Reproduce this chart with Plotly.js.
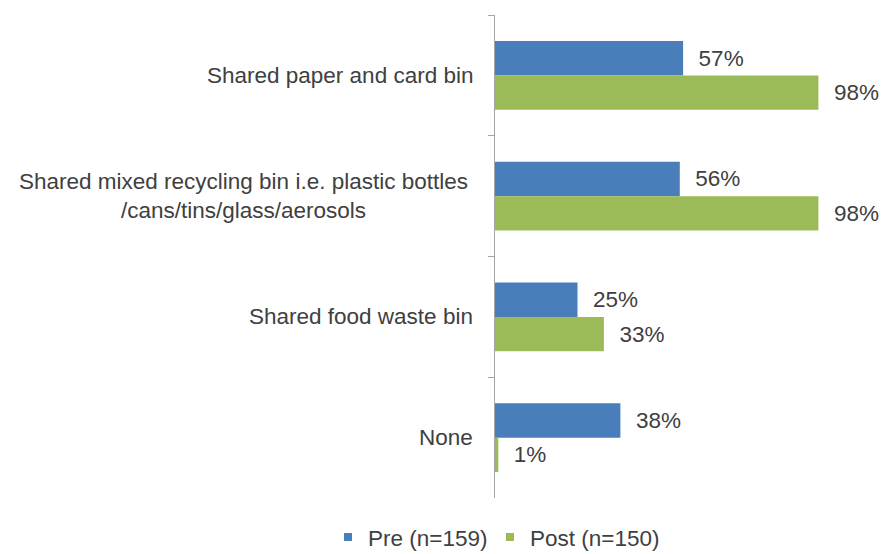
<!DOCTYPE html>
<html>
<head>
<meta charset="utf-8">
<script src="https://cdn.plot.ly/plotly-3.0.1.min.js"></script>
<style>html,body{margin:0;padding:0;background:#fff;}#chart{width:882px;height:554px;}</style>
</head>
<body>
<div id="chart"></div>
<script>
var categories = [
  "Shared paper and card bin",
  "Shared mixed recycling bin i.e. plastic bottles<br>/cans/tins/glass/aerosols",
  "Shared food waste bin",
  "None"
];
var preValues = [57, 56, 25, 38];
var postValues = [98, 98, 33, 1];
var seriesNames = ["Pre (n=159)", "Post (n=150)"];

var FONT = "Liberation Sans, Arial, sans-serif";
var FS = 22.5;
var TXT = "#404040";
var BLUE = "#4A7EBB";
var GREEN = "#9BBB59";

function labels(vals){ return vals.map(function(v){ return "\u00a0\u00a0" + v + "%"; }); }

var traces = [
  {type:"bar", orientation:"h", y:categories, x:preValues, name:seriesNames[0],
   marker:{color:BLUE}, text:labels(preValues), textposition:"outside",
   constraintext:"none", cliponaxis:false, showlegend:false, hoverinfo:"x+y",
   textfont:{family:FONT, size:FS, color:TXT}},
  {type:"bar", orientation:"h", y:categories, x:postValues, name:seriesNames[1],
   marker:{color:GREEN}, text:labels(postValues), textposition:"outside",
   constraintext:"none", cliponaxis:false, showlegend:false, hoverinfo:"x+y",
   textfont:{family:FONT, size:FS, color:TXT}},
  {type:"scatter", mode:"markers", x:[null], y:[null], name:seriesNames[0],
   marker:{symbol:"square", size:8, color:BLUE}, showlegend:true, legend:"legend"},
  {type:"scatter", mode:"markers", x:[null], y:[null], name:seriesNames[1],
   marker:{symbol:"square", size:8, color:GREEN}, showlegend:true, legend:"legend2"}
];

var annotations = categories.map(function(c, i){
  return {xref:"paper", yref:"y", x:0, y:c, text:c, showarrow:false,
          xanchor:"right", yanchor:"middle", align:"center", xshift:(i === 1 ? -25 : -20),
          font:{family:FONT, size:FS, color:TXT}};
});

var legendBase = {orientation:"h", xref:"container", yref:"container", xanchor:"left",
                  y:0.03, yanchor:"middle", bgcolor:"rgba(0,0,0,0)",
                  font:{family:FONT, size:FS, color:TXT}, itemwidth:30};

var layout = {
  width:882, height:554,
  margin:{l:495, r:57, t:15, b:56, pad:0, autoexpand:false},
  paper_bgcolor:"#fff", plot_bgcolor:"#fff",
  font:{family:FONT, size:FS, color:TXT},
  barmode:"group", bargap:0.43, bargroupgap:0,
  xaxis:{range:[0,100], visible:false, fixedrange:true},
  yaxis:{type:"category", range:[3.5,-0.5], showline:true, linecolor:"#A6A6A6", linewidth:1,
         ticks:"outside", tickson:"boundaries", ticklen:6, tickcolor:"#A6A6A6",
         showticklabels:false, showgrid:false, zeroline:false, fixedrange:true},
  showlegend:true,
  legend:Object.assign({}, legendBase, {x:328/882}),
  legend2:Object.assign({}, legendBase, {x:490/882}),
  annotations:annotations
};

Plotly.newPlot("chart", traces, layout, {displayModeBar:false, staticPlot:true});
</script>
</body>
</html>
